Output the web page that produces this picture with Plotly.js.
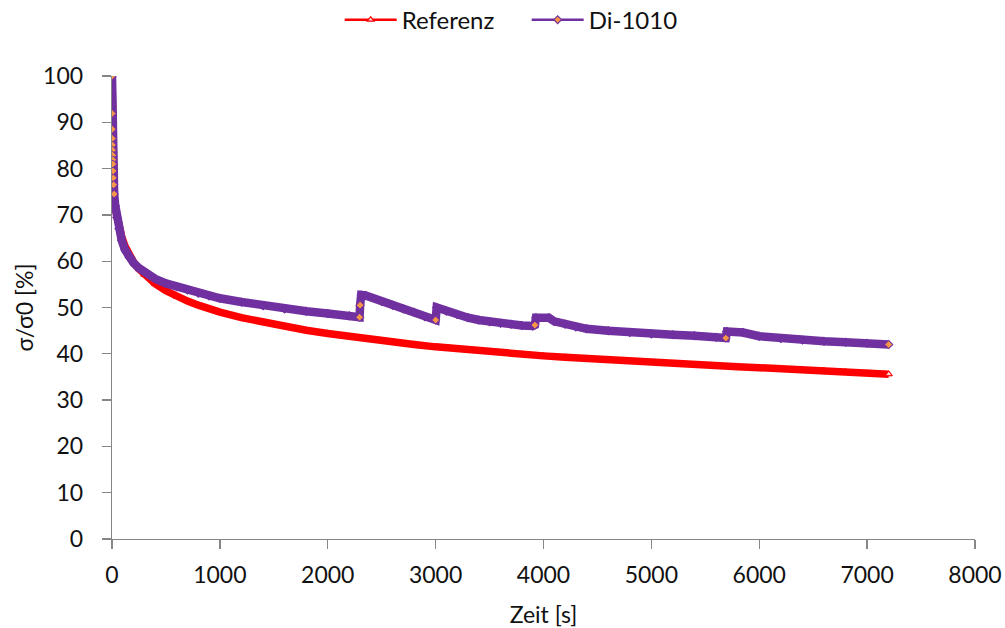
<!DOCTYPE html>
<html>
<head>
<meta charset="utf-8">
<script src="https://cdn.plot.ly/plotly-3.0.1.min.js"></script>
<style>html,body{margin:0;padding:0;background:#fff;}#chart{width:1005px;height:628px;}</style>
</head>
<body>
<div id="chart"></div>
<script>
// Referenz series (time in s, relative stress in %)
const refT = [0,1,2,3,4,5,6,7,8,10,12,15,20,30,45,65,90,120,160,200,250,300,400,500,600,700,800,900,1000,1200,1400,1600,1800,2000,2200,2400,2600,2800,3000,3200,3400,3600,3800,4000,4200,4400,4600,4800,5000,5200,5400,5600,5800,6000,6200,6400,6600,6800,7000,7200];
const refY = [100,91.5,87.5,85,83,81.5,80.3,79.3,78.5,77.2,76.2,75,73.5,71.5,69.5,67.5,65.3,63.3,61.3,59.8,58.3,57.1,55.1,53.6,52.4,51.4,50.5,49.7,49.0,47.8,46.8,45.9,45.1,44.4,43.7,43.1,42.5,42.0,41.5,41.05,40.65,40.25,39.9,39.55,39.25,38.95,38.65,38.4,38.15,37.9,37.65,37.4,37.2,37.0,36.8,36.55,36.35,36.1,35.85,35.6];

// Di-1010 series
const diT = [0,1,2,3,4,5,6,7,8,10,12,15,20,30,45,65,90,120,160,200,250,300,400,500,600,700,800,900,1000,1200,1400,1600,1800,2000,2200,2295,2300,2310,2350,2500,2600,2700,2800,2900,3000,3010,3100,3200,3300,3400,3500,3600,3700,3800,3900,3920,3930,4050,4100,4200,4300,4400,4600,4800,5000,5200,5400,5600,5690,5700,5850,6000,6200,6400,6600,6800,7000,7200];
const diY = [100,91.9,88.5,86.5,85.1,84,82.9,81.9,81,79.5,78,76.5,74.5,72,69.5,67,64.5,62.5,60.8,59.6,58.5,57.6,56.2,55.2,54.5,53.8,53.1,52.5,52.0,51.2,50.4,49.7,49.2,48.7,48.2,47.9,50.5,52.7,52.6,51.3,50.5,49.7,49.0,48.0,47.3,50.0,49.2,48.5,47.8,47.3,46.9,46.6,46.4,46.1,46.0,46.2,47.8,47.8,47.0,46.4,45.8,45.4,45.0,44.6,44.3,44.1,43.9,43.6,43.4,44.8,44.6,43.8,43.3,43.0,42.7,42.5,42.3,42.0];

const xTicks = [0,1000,2000,3000,4000,5000,6000,7000,8000];
const yTicks = [0,10,20,30,40,50,60,70,80,90,100];

const RED = '#FF0000', PURPLE = '#7030A0', ORANGE = '#F79646', PINK = '#F8DCDC';

// a marker shows its own fill only where the next sample follows quickly (fast events) or at the end
function markerFills(t, openFill, denseFill) {
  return t.map((v, i) => {
    if (i === t.length - 1) return openFill;
    return (t[i+1] - v) <= 10 ? openFill : denseFill;
  });
}

const font = {family: 'Lato, "Open Sans", sans-serif', size: 23, color: '#111111'};
const legendFont = {family: 'Lato, "Open Sans", sans-serif', size: 24, color: '#111111'};

// thin traces underneath: give the legend its thin line + marker look
const legendRef = {
  x: refT, y: refY, name: 'Referenz', type: 'scatter', mode: 'lines+markers', legendgroup: 'ref',
  line: {color: RED, width: 2.5},
  marker: {symbol: 'triangle-up', size: 6, color: PINK, line: {color: RED, width: 1.2}}
};
const legendDi = {
  x: diT, y: diY, name: 'Di-1010', type: 'scatter', mode: 'lines+markers', legendgroup: 'di',
  line: {color: PURPLE, width: 2.5},
  marker: {symbol: 'diamond', size: 6, color: ORANGE, line: {color: PURPLE, width: 1.2}}
};

const data = [
  legendRef, legendDi,
  {
    x: refT, y: refY, name: 'Referenz', type: 'scatter', mode: 'lines+markers', legendgroup: 'ref', showlegend: false,
    line: {color: RED, width: 7.5},
    marker: {symbol: 'triangle-up', size: 6, color: markerFills(refT, PINK, RED), line: {color: RED, width: 1}}
  },
  {
    x: diT, y: diY, name: 'Di-1010', type: 'scatter', mode: 'lines+markers', legendgroup: 'di', showlegend: false,
    line: {color: PURPLE, width: 8.5},
    marker: {symbol: 'diamond', size: 6, color: markerFills(diT, ORANGE, PURPLE), line: {color: PURPLE, width: 1}}
  }
];

const axisCommon = {
  showgrid: false, zeroline: false, showline: true, linecolor: '#868686', linewidth: 1.3,
  ticks: 'outside', ticklen: 9, tickcolor: '#868686', tickwidth: 1.3,
  tickfont: font
};

const layout = {
  width: 1005, height: 628,
  margin: {l: 112, r: 30, t: 76, b: 89},
  paper_bgcolor: '#fff', plot_bgcolor: '#fff',
  font: font,
  showlegend: true,
  legend: {orientation: 'h', xref: 'container', yref: 'container', x: 0.338, xanchor: 'left', y: 0.968, yanchor: 'middle',
           font: legendFont, itemwidth: 52, traceorder: 'normal', entrywidth: 120, entrywidthmode: 'pixels'},
  xaxis: Object.assign({}, axisCommon, {
    range: [0, 8000], tickvals: xTicks, ticktext: xTicks.map(String), ticklabelstandoff: 6,
    title: {text: 'Zeit [s]', font: font, standoff: 20}
  }),
  yaxis: Object.assign({}, axisCommon, {
    range: [0, 100], tickvals: yTicks, ticktext: yTicks.map(String), ticklabelstandoff: 14,
    title: {text: 'σ/σ0 [%]', font: font, standoff: 3}
  })
};

Plotly.newPlot('chart', data, layout, {displayModeBar: false, staticPlot: true});
</script>
</body>
</html>
